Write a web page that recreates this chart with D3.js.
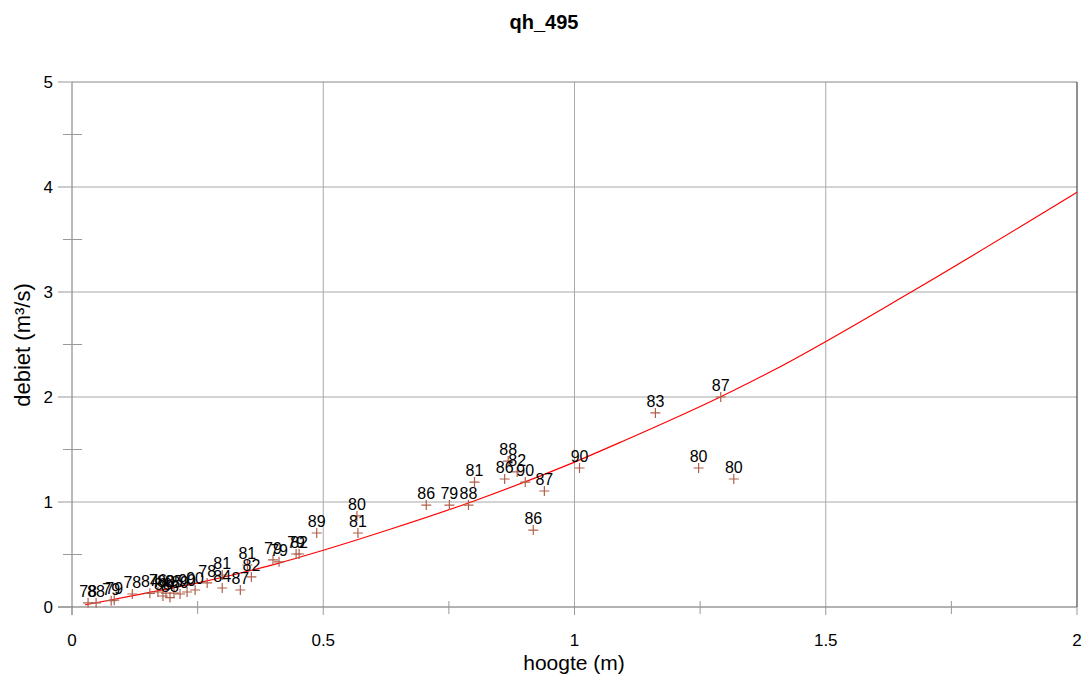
<!DOCTYPE html>
<html><head><meta charset="utf-8">
<script src="https://cdn.jsdelivr.net/npm/d3@7"></script>
<style>body{margin:0;background:#fff;} svg{display:block;font-family:"Liberation Sans",Arial,sans-serif;}</style>
</head><body>
<svg id="chart" width="1088" height="682"></svg>
<script>
// measured points
const hoogte = [0.032,0.048,0.078,0.084,0.12,0.155,0.171,0.181,0.187,0.195,0.203,0.215,0.229,0.245,0.269,0.299,0.299,0.335,0.357,0.349,0.40,0.412,0.446,0.452,0.487,0.567,0.569,0.705,0.751,0.789,0.801,0.861,0.868,0.886,0.902,0.940,0.918,1.01,1.161,1.291,1.247,1.317];
const debiet = [0.04,0.04,0.06,0.065,0.124,0.13,0.143,0.105,0.133,0.09,0.133,0.124,0.143,0.162,0.229,0.181,0.305,0.162,0.286,0.40,0.448,0.43,0.505,0.505,0.705,0.867,0.705,0.971,0.971,0.971,1.19,1.219,1.39,1.286,1.19,1.105,0.733,1.324,1.848,2.0,1.324,1.219];
const jaar = ["78","88","79","79","78","84","76","88","80","88","85","89","90","90","78","84","81","87","82","81","79","79","79","82","89","80","81","86","79","88","81","86","88","82","90","87","86","90","83","87","80","80"];
// rating curve
const curveH = [0.026,0.15,0.255,0.315,0.414,0.5,0.633,0.8,1.0,1.092,1.29,1.39,1.67,2.0];
const curveQ = [0.02,0.135,0.235,0.30,0.42,0.54,0.74,1.01,1.38,1.57,2.0,2.24,3.0,3.95];
const xTicks = [0,0.5,1,1.5,2];
const xMinor = [0.25,0.75,1.25,1.75];
const yTicks = [0,1,2,3,4,5];
const yMinor = [0.5,1.5,2.5,3.5,4.5];

const svg = d3.select("#chart");
const L=72, R=1077, T=82, B=607;
const x = d3.scaleLinear().domain([0,2]).range([L,R]);
const y = d3.scaleLinear().domain([0,5]).range([B,T]);

svg.append("text").attr("x",544).attr("y",29).attr("text-anchor","middle")
  .attr("font-weight","bold").attr("font-size",20).text("qh_495");

// grid
const g = svg.append("g");
g.selectAll(".gx").data(xTicks.filter(d=>d>0 && d<2)).join("line")
  .attr("x1",d=>x(d)).attr("x2",d=>x(d)).attr("y1",T).attr("y2",B).attr("stroke","#a8a8a8");
g.selectAll(".gy").data(yTicks.filter(d=>d>0 && d<5)).join("line")
  .attr("y1",d=>y(d)).attr("y2",d=>y(d)).attr("x1",L).attr("x2",R).attr("stroke","#a8a8a8");
// frame
g.append("line").attr("x1",L).attr("x2",R).attr("y1",T).attr("y2",T).attr("stroke","#888");
g.append("line").attr("x1",R).attr("x2",R).attr("y1",T).attr("y2",B).attr("stroke","#222");
g.append("line").attr("x1",L).attr("x2",L).attr("y1",T).attr("y2",B+8).attr("stroke","#777");
g.append("line").attr("x1",L-14).attr("x2",R).attr("y1",B).attr("y2",B).attr("stroke","#666");
// ticks
g.selectAll(".ty").data(yTicks).join("line").attr("x1",L-14).attr("x2",L).attr("y1",d=>y(d)).attr("y2",d=>y(d)).attr("stroke","#999");
g.selectAll(".tym").data(yMinor).join("line").attr("x1",L-9).attr("x2",L+10).attr("y1",d=>y(d)).attr("y2",d=>y(d)).attr("stroke","#999");
g.selectAll(".tx").data(xTicks).join("line").attr("x1",d=>x(d)).attr("x2",d=>x(d)).attr("y1",B).attr("y2",B+8).attr("stroke","#999");
g.selectAll(".txm").data(xMinor).join("line").attr("x1",d=>x(d)).attr("x2",d=>x(d)).attr("y1",B-6).attr("y2",B+7).attr("stroke","#999");
// tick labels
g.selectAll(".lx").data(xTicks).join("text").attr("x",d=>x(d)).attr("y",646).attr("text-anchor","middle")
  .attr("font-size",17).text(d=>d3.format("")(d));
g.selectAll(".ly").data(yTicks).join("text").attr("x",53).attr("y",d=>y(d)+6).attr("text-anchor","end")
  .attr("font-size",17).text(d=>d);
// axis titles
svg.append("text").attr("x",574).attr("y",670).attr("text-anchor","middle").attr("font-size",21).text("hoogte (m)");
svg.append("text").attr("transform","translate(30,345) rotate(-90)").attr("text-anchor","middle").attr("font-size",22).text("debiet (m³/s)");

// curve
const cdata = curveH.map((h,i)=>[h,curveQ[i]]);
svg.append("path").datum(cdata).attr("fill","none").attr("stroke","#ff0000").attr("stroke-width",1.2)
  .attr("d",d3.line().x(d=>x(d[0])).y(d=>y(d[1])).curve(d3.curveMonotoneX));

// points
const pts = hoogte.map((h,i)=>({h,q:debiet[i],j:jaar[i]}));
const pg = svg.append("g");
pts.forEach(p=>{
  const px=x(p.h), py=y(p.q);
  pg.append("path").attr("d",`M${px-5},${py}H${px+5}M${px},${py-5}V${py+5}`).attr("stroke","#b0604a").attr("stroke-width",1.2);
});
pg.selectAll("text").data(pts).join("text").attr("x",d=>x(d.h)).attr("y",d=>y(d.q)-6)
  .attr("text-anchor","middle").attr("font-size",16).attr("fill","#000").text(d=>d.j);
</script>
</body></html>
